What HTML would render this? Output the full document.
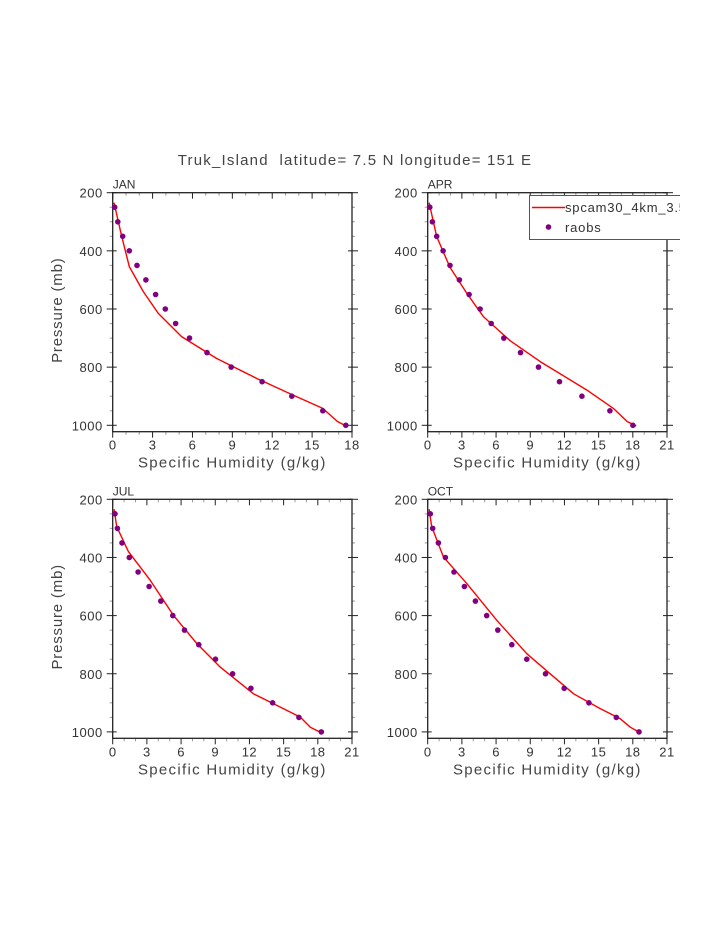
<!DOCTYPE html>
<html><head><meta charset="utf-8"><style>
body{margin:0;background:#fff;}
svg{display:block;font-family:"Liberation Sans","DejaVu Sans",sans-serif;}
</style></head><body>
<svg id="s" width="723" height="935" xmlns="http://www.w3.org/2000/svg"></svg>
<script>
const S=document.getElementById('s');
let h='';
h+='<text x="355" y="165" font-size="15" fill="#444" text-anchor="middle" letter-spacing="1.2" style="white-space:pre">Truk_Island  latitude= 7.5 N longitude= 151 E</text>';
const P=[250,300,350,400,450,500,550,600,650,700,750,800,850,900,950,1000];
const panels=[
 {x0:112.7,y0:192.7,xmax:18,name:'JAN',ylab:true,
  pts:[0.15,0.38,0.75,1.25,1.83,2.5,3.23,3.96,4.73,5.78,7.09,8.91,11.24,13.47,15.8,17.53],
  line:[[0.1,234],[0.68,350],[1.25,454],[2.3,540],[3.43,615],[5.18,695],[7.81,770],[10.8,838],[13.57,896],[15.8,942],[16.9,987],[17.5,1001]]},
 {x0:427.7,y0:192.7,xmax:21,name:'APR',ylab:false,legend:true,
  pts:[0.18,0.41,0.79,1.35,1.96,2.78,3.63,4.6,5.57,6.68,8.14,9.72,11.57,13.53,15.99,18.01],
  line:[[0.12,234],[0.79,351],[1.96,457],[3.43,546],[4.89,626],[7.23,709],[9.87,781],[13.97,879],[16.3,942],[17.5,987],[18.3,1002]]},
 {x0:112.7,y0:499.3,xmax:21,name:'JUL',ylab:true,
  pts:[0.2,0.41,0.82,1.46,2.23,3.19,4.22,5.27,6.3,7.56,9.02,10.52,12.13,14.03,16.34,18.31],
  line:[[0.12,234],[0.35,294],[1.38,380],[3.28,478],[5.33,599],[7.38,696],[9.43,777],[12.36,869],[14.12,903],[16.46,949],[17.34,984],[18.22,1001]]},
 {x0:427.7,y0:499.3,xmax:21,name:'OCT',ylab:false,
  pts:[0.23,0.44,0.94,1.55,2.31,3.22,4.19,5.18,6.15,7.38,8.7,10.34,11.98,14.15,16.55,18.54],
  line:[[0.12,234],[0.35,294],[1.38,398],[3.43,490],[6.06,616],[8.7,731],[10.75,800],[12.8,869],[15.14,920],[16.9,955],[17.78,984],[18.6,1002]]}
];
const W=239.3,H=239;
for(const p of panels){
 const X=q=>p.x0+q*W/p.xmax, Y=v=>p.y0+(v-200)*0.29075;
 const yb=p.y0+H, xr=p.x0+W;
 for(let v=200;v<=1000;v+=50){const y=Y(v);const maj=v%200==0;
  const L=maj?6:3;const c=maj?'#222':'#999';
  h+=`<line x1="${p.x0-L}" y1="${y}" x2="${p.x0+ (maj?4:0)}" y2="${y}" stroke="${c}" stroke-width="1"/>`;
  h+=`<line x1="${xr-(maj?4:0)}" y1="${y}" x2="${xr+L}" y2="${y}" stroke="${c}" stroke-width="1"/>`;
  if(maj)h+=`<text x="${p.x0-10}" y="${y+5}" font-size="13" fill="#333" text-anchor="end" letter-spacing="0.5">${v}</text>`;}
 for(let q=0;q<=p.xmax;q++){const x=X(q);const maj=q%3==0;const c=maj?'#222':'#999';
  h+=`<line x1="${x}" y1="${yb}" x2="${x}" y2="${yb+(maj?6:3)}" stroke="${c}"/>`;
  h+=`<line x1="${x}" y1="${p.y0}" x2="${x}" y2="${p.y0+(maj?6:3)}" stroke="${c}"/>`;
  if(maj)h+=`<text x="${x}" y="${yb+18}" font-size="13" fill="#333" text-anchor="middle" letter-spacing="0.5">${q}</text>`;}
 h+=`<rect x="${p.x0}" y="${p.y0}" width="${W}" height="${H}" fill="none" stroke="#222" stroke-width="1.3"/>`;
 h+=`<text x="${p.x0}" y="${p.y0-4}" font-size="12" fill="#333">${p.name}</text>`;
 h+=`<text x="${p.x0+W/2}" y="${yb+36}" font-size="15" fill="#444" text-anchor="middle" letter-spacing="1.3">Specific Humidity (g/kg)</text>`;
 if(p.ylab){const cy=p.y0+H/2-2;h+=`<text transform="translate(62,${cy}) rotate(-90)" font-size="15" fill="#444" text-anchor="middle" letter-spacing="0.8">Pressure (mb)</text>`;}
 h+=`<polyline fill="none" stroke="#ff0000" stroke-width="1.4" stroke-linejoin="round" points="${p.line.map(a=>X(a[0]).toFixed(1)+','+Y(a[1]).toFixed(1)).join(' ')}"/>`;
 p.pts.forEach((q,i)=>{h+=`<circle cx="${X(q).toFixed(1)}" cy="${Y(P[i]).toFixed(1)}" r="2.8" fill="#800080"/>`;});
 if(p.legend){
  h+=`<svg x="529" y="195" width="151" height="46"><rect x="0.5" y="0.5" width="170" height="44" fill="#fff" stroke="#555" stroke-width="1"/>`;
  h+=`<line x1="3" y1="12.5" x2="36" y2="12.5" stroke="#ff0000" stroke-width="1.4"/>`;
  h+=`<text x="36" y="17" font-size="13" fill="#333" letter-spacing="0.8">spcam30_4km_3.5</text>`;
  h+=`<circle cx="19.5" cy="32" r="2.8" fill="#800080"/>`;
  h+=`<text x="36" y="37" font-size="13" fill="#333" letter-spacing="0.8">raobs</text></svg>`;
 }
}
S.innerHTML=h;
</script>
</body></html>
